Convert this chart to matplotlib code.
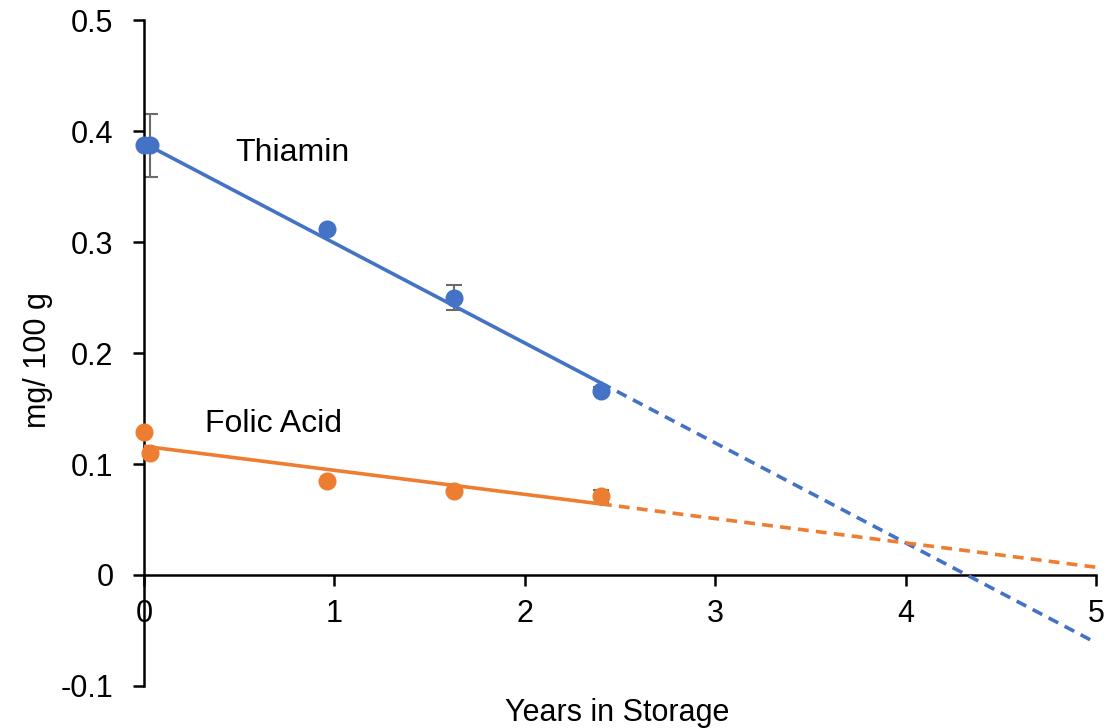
import matplotlib
matplotlib.use("Agg")
from matplotlib import pyplot as plt

plt.rcParams['font.family'] = ['Liberation Sans', 'DejaVu Sans']

# measured points
thiamin_x = [0.0, 0.03, 0.96, 1.63, 2.40]
thiamin_y = [0.387, 0.387, 0.312, 0.250, 0.166]
thiamin_err = [0.0, 0.028, 0.0, 0.011, 0.003]

folic_x = [0.0, 0.03, 0.96, 1.63, 2.40]
folic_y = [0.129, 0.110, 0.085, 0.076, 0.071]
folic_err = [0.002, 0.004, 0.0, 0.0, 0.006]

# trend lines (fit over data, then projected)
thiamin_fit_x = [0.0, 2.40]
thiamin_fit_y = [0.389, 0.173]
thiamin_proj_x = [2.40, 5.0]
thiamin_proj_y = [0.173, -0.061]

folic_fit_x = [0.0, 2.40]
folic_fit_y = [0.116, 0.064]
folic_proj_x = [2.40, 5.0]
folic_proj_y = [0.064, 0.007]

x_ticks = [0, 1, 2, 3, 4, 5]
y_ticks = [-0.1, 0, 0.1, 0.2, 0.3, 0.4, 0.5]
y_labels = ['-0.1', '0', '0.1', '0.2', '0.3', '0.4', '0.5']

blue = '#4472C4'
orange = '#ED7D31'
grey = '#6b6b6b'

fig = plt.figure(figsize=(11.19, 7.28), dpi=100)
ax = fig.add_axes([0.1287, 0.0577, 0.8507, 0.9148])

ax.errorbar(thiamin_x, thiamin_y, yerr=thiamin_err, fmt='none', ecolor=grey,
            elinewidth=1.5, capsize=6, capthick=1.5, zorder=2)
ax.errorbar(folic_x, folic_y, yerr=folic_err, fmt='none', ecolor=grey,
            elinewidth=1.5, capsize=6, capthick=1.5, zorder=2)

ax.plot(thiamin_fit_x, thiamin_fit_y, color=blue, lw=2.6, zorder=3)
ax.plot(thiamin_proj_x, thiamin_proj_y, color=blue, lw=2.6, ls=(0, (3, 2)), zorder=3)
ax.plot(folic_fit_x, folic_fit_y, color=orange, lw=2.6, zorder=3)
ax.plot(folic_proj_x, folic_proj_y, color=orange, lw=2.6, ls=(0, (3, 2)), zorder=3)

ax.plot(thiamin_x, thiamin_y, 'o', color=blue, ms=12, zorder=4, clip_on=False)
ax.plot(folic_x, folic_y, 'o', color=orange, ms=12, zorder=4, clip_on=False)

ax.text(0.48, 0.380, 'Thiamin', fontsize=23, ha='left', va='center')
ax.text(0.32, 0.136, 'Folic Acid', fontsize=23, ha='left', va='center')

ax.set_xlim(0, 5)
ax.set_ylim(-0.1, 0.5)
ax.spines['left'].set_position(('data', 0))
ax.spines['bottom'].set_position(('data', 0))
ax.spines['top'].set_visible(False)
ax.spines['right'].set_visible(False)
for s in ('left', 'bottom'):
    ax.spines[s].set_linewidth(1.8)
    ax.spines[s].set_clip_on(False)

ax.set_xticks(x_ticks)
ax.set_xticklabels([str(t) for t in x_ticks])
ax.set_yticks(y_ticks)
ax.set_yticklabels(y_labels)
ax.tick_params(axis='both', direction='out', length=8, width=1.8, labelsize=22)
ax.tick_params(axis='y', pad=14)
ax.tick_params(axis='x', pad=9)

ax.set_xlabel('Years in Storage', fontsize=22)
ax.xaxis.set_label_coords(0.497, -0.018)
ax.set_ylabel('mg/ 100 g', fontsize=22)
ax.yaxis.set_label_coords(-0.096, 0.49)

fig.savefig('out.png', dpi=100)
